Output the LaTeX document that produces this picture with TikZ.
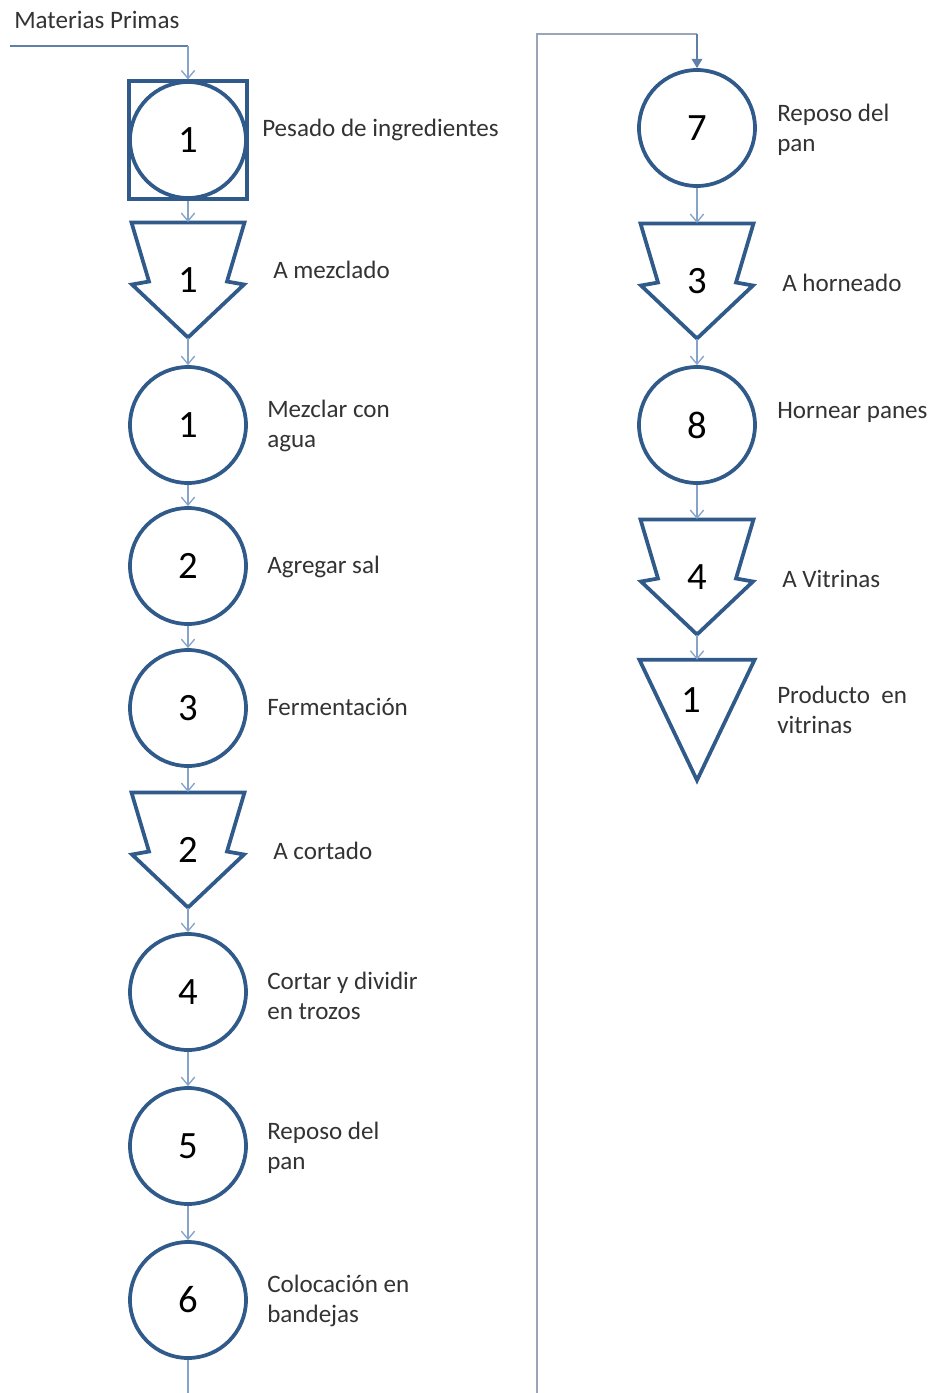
\documentclass[tikz,border=0pt]{standalone}
\usepackage{fontspec}
\setmainfont{Carlito}
\usetikzlibrary{arrows.meta,calc}

\definecolor{shapeblue}{HTML}{2F5A8A}
\definecolor{linkblue}{HTML}{86A3CB}
\definecolor{feedblue}{HTML}{5E7FA8}
\definecolor{returngray}{HTML}{9AA6B8}
\definecolor{labelgray}{HTML}{333333}

\tikzset{
  outline/.style={draw=shapeblue, line width=2.8pt, line join=miter},
  opbox/.style={circle, outline, minimum size=87pt, inner sep=0pt,
    font=\fontsize{29}{32}\selectfont, text=black},
  transportbox/.style={rectangle, minimum width=84.75pt, minimum height=86.5pt,
    inner sep=0pt, font=\fontsize{29}{32}\selectfont, text=black},
  storebox/.style={rectangle, minimum width=86pt, minimum height=90pt,
    inner sep=0pt},
  num/.style={font=\fontsize{29}{32}\selectfont, text=black, inner sep=0pt},
  lbl/.style={anchor=west, align=left, inner sep=0pt, text=labelgray,
    font=\fontsize{18.8}{22.5}\selectfont},
  flow/.style={draw=linkblue, line width=1.1pt,
    -{Straight Barb[length=6pt,width=10pt,line width=1pt]}},
}

% transport arrow outline drawn around a transportbox node
\newcommand{\transportoutline}[1]{%
  \draw[outline] ($(#1.center)+(-56.5,-57.5)$) -- ($(#1.center)+(56.5,-57.5)$)
    -- ($(#1.center)+(39,1.5)$) -- ($(#1.center)+(56,4.5)$)
    -- ($(#1.center)+(0,57.5)$) -- ($(#1.center)+(-56,4.5)$)
    -- ($(#1.center)+(-39,1.5)$) -- cycle;}

\begin{document}
\begin{tikzpicture}[x=0.75pt,y=-0.75pt]
\useasboundingbox[fill=white] (0,0) rectangle (931,1393);

% ---- left column ----
\node[rectangle, outline, minimum size=88pt, inner sep=0pt] (sq1) at (188,140) {};
\node[opbox] (c0) at (188,140) {1};
\node[transportbox] (tr1) at (188,280) {1};
\transportoutline{tr1}
\node[opbox] (c1) at (188,425) {1};
\node[opbox] (c2) at (188,566) {2};
\node[opbox] (c3) at (188,708) {3};
\node[transportbox] (tr2) at (188,850) {2};
\transportoutline{tr2}
\node[opbox] (c4) at (188,992) {4};
\node[opbox] (c5) at (188,1146) {5};
\node[opbox] (c6) at (188,1300) {6};

% ---- right column ----
\node[opbox] (c7) at (697,128) {7};
\node[transportbox] (tr3) at (697,281) {3};
\transportoutline{tr3}
\node[opbox] (c8) at (697,425) {8};
\node[transportbox] (tr4) at (697,577) {4};
\transportoutline{tr4}
\node[storebox] (st1) at (697,720) {};
\draw[outline] (st1.north west) -- (st1.north east) -- (st1.south) -- cycle;
\node[num] (st1n) at (691,700) {1};

% ---- incoming raw material ----
\node[lbl] (mp) at (14,20) {Materias Primas};
\coordinate (feedA) at (10,46);
\coordinate (feedB) at (188,46);
\draw[draw=feedblue, line width=1.1pt] (feedA) -- (feedB);
\draw[flow] (feedB) -- (sq1.north);

% ---- flow connectors ----
\draw[flow] (sq1.south) -- (tr1.north);
\draw[flow] ($(tr1.center)+(0,57.5)$) -- (c1.north);
\draw[flow] (c1.south) -- (c2.north);
\draw[flow] (c2.south) -- (c3.north);
\draw[flow] (c3.south) -- (tr2.north);
\draw[flow] ($(tr2.center)+(0,57.5)$) -- (c4.north);
\draw[flow] (c4.south) -- (c5.north);
\draw[flow] (c5.south) -- (c6.north);

\coordinate (down) at (188,1393);
\draw[draw=linkblue, line width=1.1pt] (c6.south) -- (down);

\coordinate (upA) at (537,1393);
\coordinate (upB) at (537,34);
\coordinate (upC) at (697,34);
\draw[draw=returngray, line width=1.3pt] (upA) -- (upB) -- (upC);
\draw[draw=feedblue, line width=1.1pt, -{Triangle[length=7pt,width=8pt]}] (upC) -- (c7.north);

\draw[flow] (c7.south) -- (tr3.north);
\draw[flow] ($(tr3.center)+(0,57.5)$) -- (c8.north);
\draw[flow] (c8.south) -- (tr4.north);
\draw[flow] ($(tr4.center)+(0,57.5)$) -- (st1.north);

% ---- labels ----
\node[lbl] (l1) at (262,130) {Pesado de ingredientes};
\node[lbl] (l2) at (273,270) {A mezclado};
\node[lbl] (l3) at (267,426) {Mezclar con\\agua};
\node[lbl] (l4) at (267,567) {Agregar sal};
\node[lbl] (l5) at (267,707) {Fermentación};
\node[lbl] (l6) at (273,851) {A cortado};
\node[lbl] (l7) at (267,996) {Cortar y dividir\\en trozos};
\node[lbl] (l8) at (267,1148) {Reposo del\\pan};
\node[lbl] (l9) at (267,1301) {Colocación en\\bandejas};
\node[lbl] (r1) at (777,130) {Reposo del\\pan};
\node[lbl] (r2) at (782,283) {A horneado};
\node[lbl] (r3) at (777,412) {Hornear panes};
\node[lbl] (r4) at (782,579) {A Vitrinas};
\node[lbl] (r5) at (777,710) {Producto~ en\\vitrinas};
\end{tikzpicture}
\end{document}
